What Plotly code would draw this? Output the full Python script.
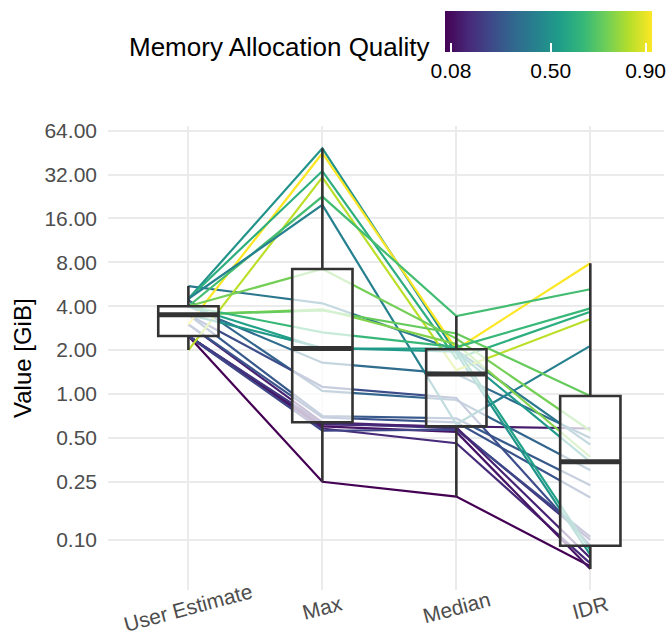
import numpy as np
import plotly.graph_objects as go
from plotly.colors import sample_colorscale

# ---------------- data ----------------
categories = ["User Estimate", "Max", "Median", "IDR"]

user_estimate = [2.5, 2.5, 2.5, 2.5, 2.5, 2.5, 3.0, 3.0, 3.5, 4.4, 3.5, 4.0, 5.5,
                 4.5, 3.0, 4.5, 2.0, 4.0, 4.5, 4.0, 3.5, 3.5, 4.0, 4.0, 3.5]
max_usage = [0.25, 0.62, 0.58, 0.60, 0.63, 0.56, 0.64, 0.69, 0.707, 1.05, 1.12, 1.64, 4.19,
             48.4, 44.8, 33.8, 30.6, 22.6, 19.8, 7.2, 3.81, 3.75, 2.65, 2.05, 2.07]
median_usage = [0.198, 0.60, 0.46, 0.55, 0.58, 0.57, 0.59, 0.64, 0.68, 0.91, 0.94, 1.37, 2.0,
                1.9, 2.03, 1.75, 1.46, 3.43, 0.62, 2.4, 2.2, 2.6, 2.1, 2.05, 1.95]
idr_usage = [0.066, 0.58, 0.069, 0.063, 0.10, 0.105, 0.075, 0.195, 0.237, 0.30, 0.091, 0.50, 0.45,
             0.079, 7.88, 3.67, 3.27, 5.23, 2.14, 0.56, 0.37, 0.97, 3.87, 0.085, 0.343]
quality = [0.055, 0.12, 0.16, 0.10, 0.20, 0.24, 0.14, 0.28, 0.30, 0.34, 0.26, 0.36, 0.40,
           0.50, 0.927, 0.60, 0.84, 0.66, 0.44, 0.74, 0.76, 0.72, 0.64, 0.55, 0.52]

ytick_vals = [0.10, 0.25, 0.50, 1.00, 2.00, 4.00, 8.00, 16.00, 32.00, 64.00]
ytick_text = ["0.10", "0.25", "0.50", "1.00", "2.00", "4.00", "8.00", "16.00", "32.00", "64.00"]
cbar_ticks = [0.08, 0.50, 0.90]
cbar_text = ["0.08", "0.50", "0.90"]

# ---------------- derived ----------------
series = [user_estimate, max_usage, median_usage, idr_usage]
qmin, qmax = min(quality), max(quality)
yrange = [-1.344, 1.838]
FONT = "Liberation Sans, Arial, sans-serif"

# box statistics computed on log scale (like scale_y_log10 + geom_boxplot)
q1s, meds, q3s, lfs, ufs = [], [], [], [], []
for vals in series:
    v = np.array(vals)
    lv = np.log10(v)
    q1, md, q3 = np.percentile(lv, [25, 50, 75])
    iqr = q3 - q1
    inside = lv[(lv >= q1 - 1.5 * iqr) & (lv <= q3 + 1.5 * iqr)]
    q1s.append(10 ** q1); meds.append(10 ** md); q3s.append(10 ** q3)
    lfs.append(10 ** inside.min()); ufs.append(10 ** inside.max())

fig = go.Figure()

# lines, one per job
for i, q in enumerate(quality):
    col = sample_colorscale("Viridis", [(q - qmin) / (qmax - qmin)])[0]
    fig.add_trace(go.Scatter(
        x=categories,
        y=[s[i] for s in series],
        mode="lines",
        line=dict(color=col, width=2.2),
        hoverinfo="skip",
        showlegend=False,
    ))

# boxplots drawn above the lines (overlay axis)
fig.add_trace(go.Box(
    x=categories, q1=q1s, median=meds, q3=q3s, lowerfence=lfs, upperfence=ufs,
    width=0.45, whiskerwidth=0,
    line=dict(color="#333333", width=2.6),
    fillcolor="rgba(255,255,255,0.72)",
    boxpoints=False, yaxis="y2", showlegend=False, hoverinfo="skip",
))
# thick median bar
fig.add_trace(go.Box(
    x=categories, q1=meds, median=meds, q3=meds, lowerfence=meds, upperfence=meds,
    width=0.45, whiskerwidth=0,
    line=dict(color="#333333", width=5),
    fillcolor="rgba(0,0,0,0)",
    boxpoints=False, yaxis="y2", showlegend=False, hoverinfo="skip",
))

# colour bar
fig.add_trace(go.Scatter(
    x=[None], y=[None], mode="markers",
    marker=dict(
        color=[qmin], colorscale="Viridis", cmin=qmin, cmax=qmax, showscale=True,
        colorbar=dict(
            orientation="h", xref="paper", yref="paper",
            x=(445 - 108) / 556, y=(590 - 11) / 464, xanchor="left", yanchor="top",
            len=207, lenmode="pixels", thickness=41, thicknessmode="pixels",
            xpad=0, ypad=0, outlinewidth=0,
            tickvals=cbar_ticks, ticktext=cbar_text, ticklabeloverflow="allow",
            ticks="inside", ticklen=9, tickcolor="rgb(255,255,255)", tickwidth=2,
            tickfont=dict(size=21, color="black", family=FONT),
        ),
    ),
    showlegend=False, hoverinfo="skip",
))

annotations = []
for c in categories:
    annotations.append(dict(
        x=c, xref="x", y=0, yref="paper", yshift=-17,
        text=c, textangle=-15, showarrow=False,
        xanchor="center", yanchor="middle",
        font=dict(size=21, color="#4D4D4D"),
    ))
annotations.append(dict(
    x=(22 - 108) / 556, xref="paper", y=0.5, yref="paper",
    text="Value [GiB]", textangle=-90, showarrow=False,
    xanchor="center", yanchor="middle",
    font=dict(size=24, color="black"),
))
annotations.append(dict(
    x=(432 - 108) / 556, xref="paper", y=(590 - 47) / 464, yref="paper",
    text="Memory Allocation Quality", showarrow=False,
    xanchor="right", yanchor="middle",
    font=dict(size=26, color="black"),
))

fig.update_layout(
    width=668, height=633,
    margin=dict(l=108, r=4, t=126, b=43, autoexpand=False),
    plot_bgcolor="white", paper_bgcolor="white",
    font=dict(family=FONT),
    showlegend=False,
    boxmode="overlay",
    hovermode=False,
    annotations=annotations,
    xaxis=dict(
        type="category", categoryorder="array", categoryarray=categories,
        range=[-0.6, 3.55], showgrid=True, gridcolor="#EBEBEB", gridwidth=1.6,
        showticklabels=False, ticks="", zeroline=False, showline=False,
    ),
    yaxis=dict(
        type="log", range=yrange, tickvals=ytick_vals, ticktext=ytick_text,
        showgrid=True, gridcolor="#EBEBEB", gridwidth=1.6,
        tickfont=dict(size=21, color="#4D4D4D"), ticks="", ticklabelstandoff=10,
        zeroline=False, showline=False,
    ),
    yaxis2=dict(
        type="log", range=yrange, overlaying="y", visible=False,
        showgrid=False, zeroline=False,
    ),
)

fig.write_html("out.html", config={"displayModeBar": False},
               post_script="document.body.style.margin='0';")
